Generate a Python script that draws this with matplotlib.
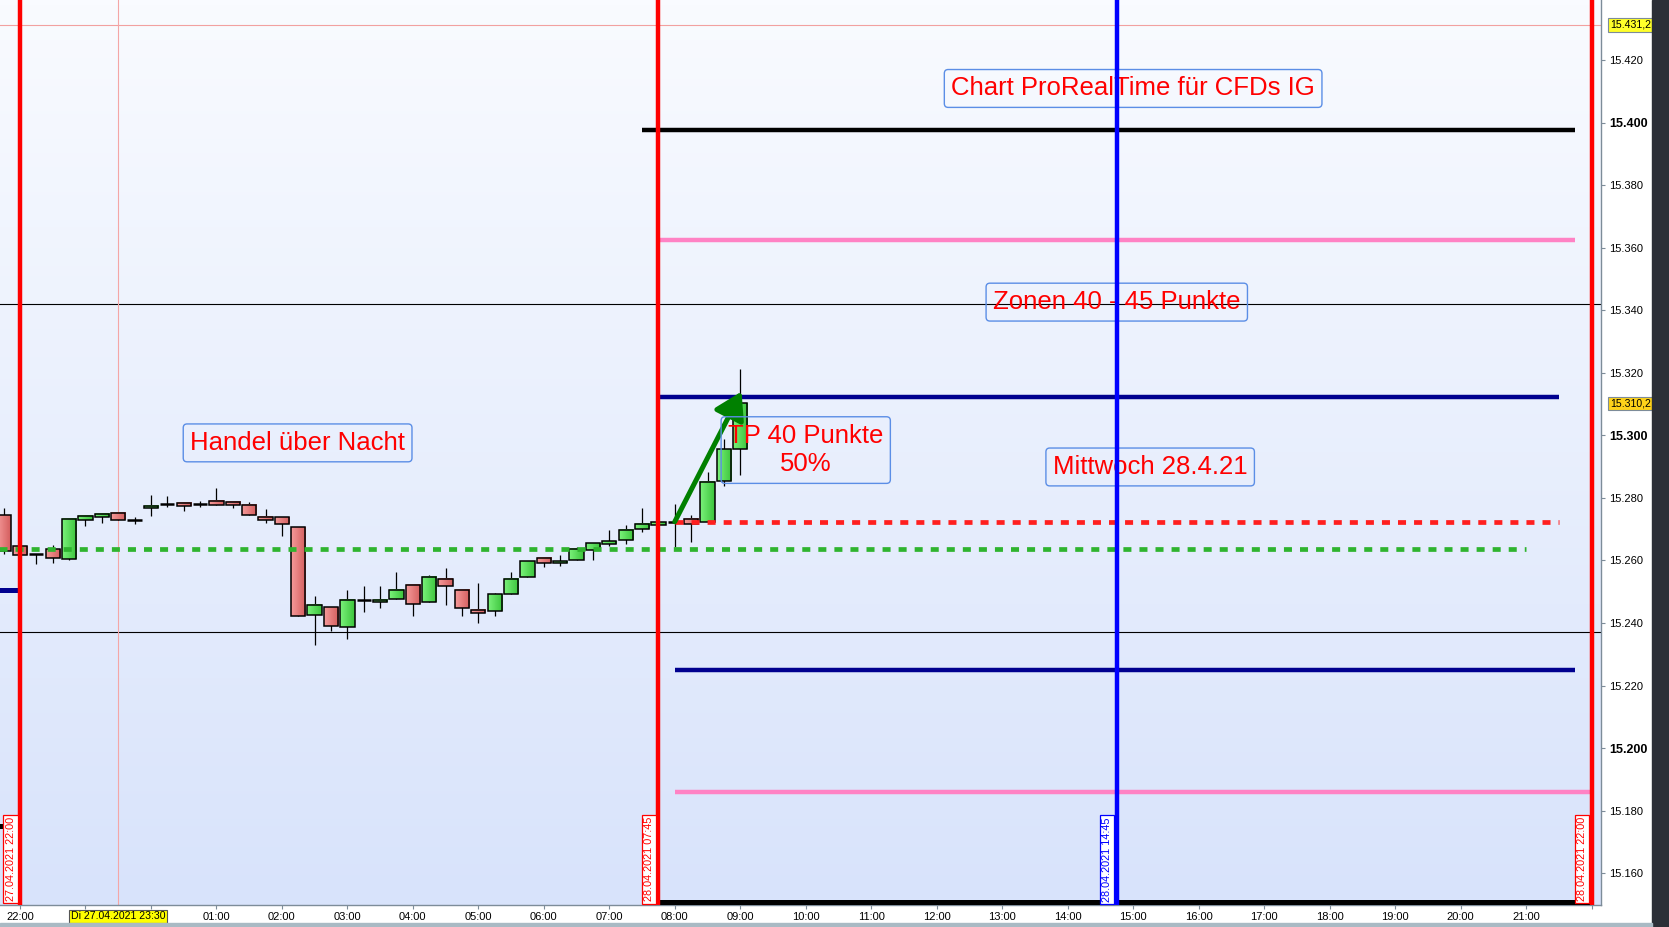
import numpy as np
import pandas as pd
import matplotlib
matplotlib.use("Agg")
import matplotlib.pyplot as plt
from matplotlib.patches import Rectangle
from matplotlib.colors import LinearSegmentedColormap

plt.rcParams['font.family'] = ['Liberation Sans', 'DejaVu Sans']

# ---------------- data ----------------
start_time = pd.Timestamp("2021-04-27 21:45")
opens = [15274.5, 15264.5, 15262.0, 15263.6, 15260.4, 15272.8, 15273.8, 15275.1, 15273.0, 15276.7,
         15278.0, 15278.3, 15278.2, 15278.9, 15278.6, 15277.6, 15273.8, 15273.8, 15270.6, 15242.5,
         15245.0, 15238.6, 15247.5, 15246.6, 15247.6, 15252.1, 15246.6, 15254.0, 15250.5, 15244.1,
         15243.8, 15249.2, 15254.6, 15260.7, 15259.1, 15260.0, 15263.3, 15265.2, 15266.4, 15270.0,
         15271.3, 15272.4, 15273.2, 15272.2, 15285.5, 15295.5]
highs = [15276.9, 15265.0, 15262.0, 15264.9, 15273.5, 15274.5, 15275.2, 15275.1, 15273.9, 15280.9,
         15280.6, 15278.6, 15279.0, 15283.2, 15278.6, 15278.6, 15276.4, 15273.8, 15270.6, 15248.6,
         15245.0, 15250.6, 15251.8, 15251.8, 15256.3, 15252.1, 15255.4, 15257.6, 15250.5, 15252.8,
         15249.5, 15256.3, 15259.7, 15261.0, 15261.7, 15264.2, 15265.5, 15269.7, 15271.3, 15276.8,
         15272.2, 15278.1, 15274.4, 15288.2, 15298.7, 15321.2]
lows = [15262.1, 15261.5, 15258.8, 15259.3, 15260.0, 15271.1, 15272.1, 15272.8, 15271.7, 15274.3,
        15277.2, 15275.9, 15277.2, 15277.6, 15276.9, 15274.4, 15272.1, 15267.9, 15242.2, 15233.1,
        15237.5, 15235.0, 15243.6, 15244.9, 15247.6, 15242.4, 15246.6, 15245.7, 15242.4, 15240.1,
        15242.4, 15249.2, 15254.6, 15258.0, 15258.3, 15260.0, 15260.0, 15264.5, 15265.2, 15269.0,
        15271.3, 15264.2, 15266.0, 15272.2, 15283.9, 15287.4]
closes = [15263.1, 15261.7, 15262.0, 15260.9, 15273.2, 15274.1, 15274.8, 15272.8, 15273.0, 15277.4,
          15278.0, 15277.3, 15278.3, 15277.6, 15277.6, 15274.4, 15272.8, 15271.6, 15242.2, 15245.7,
          15239.0, 15247.3, 15247.5, 15247.3, 15250.5, 15246.0, 15254.6, 15251.7, 15244.7, 15243.1,
          15249.2, 15254.0, 15259.7, 15259.1, 15259.7, 15263.6, 15265.5, 15266.1, 15269.6, 15271.6,
          15272.2, 15272.4, 15271.6, 15285.0, 15295.6, 15310.2]

# hours are measured from 27.04.2021 22:00
ref_time = pd.Timestamp("2021-04-27 22:00")
times = pd.date_range(start_time, periods=len(opens), freq="15min")
t_hours = [(t - ref_time).total_seconds() / 3600 for t in times]

x_tick_hours = list(range(0, 25))
x_tick_labels = ["22:00", "", "", "01:00", "02:00", "03:00", "04:00", "05:00", "06:00", "07:00",
                 "08:00", "09:00", "10:00", "11:00", "12:00", "13:00", "14:00", "15:00", "16:00",
                 "17:00", "18:00", "19:00", "20:00", "21:00", ""]
y_ticks = [15160, 15180, 15200, 15220, 15240, 15260, 15280, 15300, 15320, 15340, 15360, 15380, 15400, 15420]
y_tick_labels = ["15.160", "15.180", "15.200", "15.220", "15.240", "15.260", "15.280", "15.300",
                 "15.320", "15.340", "15.360", "15.380", "15.400", "15.420"]
bold_ticks = ["15.200", "15.300", "15.400"]

# levels
session_lines = [0.0, 9.75, 24.0]          # red verticals
session_labels = ["27.04.2021 22:00", "28.04.2021 07:45", "28.04.2021 22:00"]
blue_line = 16.75
blue_label = "28.04.2021 14:45"
cross_hour = 1.5
cross_label = "Di 27.04.2021 23:30"
high_ref = 15431.2
last_price = 15310.2
thin_levels = [15342.0, 15237.2]
black_level = (15397.6, 9.5, 23.75)
pink_high = (15362.5, 9.75, 23.75)
navy_high = (15312.2, 9.75, 23.5)
red_dash = (15272.4, 10.0, 23.5)
green_dash = (15263.6, -0.4, 23.0)
navy_low = (15225.1, 10.0, 23.75)
pink_low = (15186.0, 10.0, 24.0)
bottom_black = (15150.8, 9.75, 24.0)
left_navy = (15250.6, -0.4, 0.0)
left_black = (15175.1, -0.4, 0.0)
arrow_start = (10.0, 15272.4)
arrow_end = (11.02, 15314.0)

notes = [
    ("Chart ProRealTime für CFDs IG", 17.0, 15410.9),
    ("Zonen 40 - 45 Punkte", 16.75, 15342.6),
    ("Handel über Nacht", 4.24, 15297.6),
    ("TP 40 Punkte\n50%", 12.0, 15295.3),
    ("Mittwoch 28.4.21", 17.26, 15289.9),
]

# ---------------- figure ----------------
W, H = 1669, 927
fig = plt.figure(figsize=(W / 100, H / 100), dpi=100)
fig.patch.set_facecolor("white")
ax = fig.add_axes([0, 22 / H, 1601 / W, 905 / H])

xlim = (-0.305, 24.145)
ylim = (15149.87, 15439.18)

# background gradient
grad = np.linspace(0, 1, 256).reshape(-1, 1)
bg_cmap = LinearSegmentedColormap.from_list("bg", ["#f9fbff", "#d8e3fb"])
ax.imshow(grad, extent=[xlim[0], xlim[1], ylim[0], ylim[1]], origin="upper",
          cmap=bg_cmap, aspect="auto", zorder=0, interpolation="bilinear")

# thin lines
ax.axhline(high_ref, color="#f2a0a0", lw=0.8, zorder=1)
for lv in thin_levels:
    ax.axhline(lv, color="black", lw=0.8, zorder=1)
ax.axvline(cross_hour, color="#f4a6a6", lw=0.8, zorder=1)

# candles
green_cmap = LinearSegmentedColormap.from_list("g", ["#7af27a", "#3cc43c"])
red_cmap = LinearSegmentedColormap.from_list("r", ["#f59a9a", "#d45e5e"])
hgrad = np.linspace(0, 1, 32).reshape(1, -1)
cw = 0.218
for x, o, h, l, c in zip(t_hours, opens, highs, lows, closes):
    ax.vlines(x, l, h, color="black", lw=0.9, zorder=2)
    if abs(c - o) < 0.3:
        ax.hlines(o, x - cw / 2, x + cw / 2, color="black", lw=1.8, zorder=3)
        continue
    lo, hi = min(o, c), max(o, c)
    cm = green_cmap if c > o else red_cmap
    ax.imshow(hgrad, extent=[x - cw / 2, x + cw / 2, lo, hi], cmap=cm, aspect="auto",
              zorder=2.5, interpolation="bilinear")
    ax.add_patch(Rectangle((x - cw / 2, lo), cw, hi - lo, fill=False, ec="black", lw=1.1, zorder=3))

# horizontal levels
def hline(level, color, lw, ls="-", z=4):
    y, x0, x1 = level
    ax.plot([x0, x1], [y, y], color=color, lw=lw, ls=ls, zorder=z, solid_capstyle="butt",
            dash_capstyle="butt")

hline(black_level, "black", 3.2)
hline(pink_high, "#ff82c4", 3.2)
hline(navy_high, "#00008f", 3.2)
hline(red_dash, "#ff1f1f", 3.4, ls=(0, (1.7, 1.7)))
hline(green_dash, "#2fb42f", 3.4, ls=(0, (1.7, 1.7)))
hline(navy_low, "#00008f", 3.2)
hline(pink_low, "#ff82c4", 3.2)
hline(bottom_black, "black", 3.6)
hline(left_navy, "#00008f", 3.6)
hline(left_black, "black", 3.6)

# arrow
ax.annotate("", xy=arrow_end, xytext=arrow_start,
            arrowprops=dict(arrowstyle="-|>,head_length=0.9,head_width=0.55", lw=3.6,
                            color="#008000", shrinkA=0, shrinkB=0, mutation_scale=18),
            zorder=5)

# notes
for txt, xh, yp in notes:
    ax.text(xh, yp, txt, ha="center", va="center", color="#ff0000", fontsize=18.5,
            linespacing=1.25, zorder=5,
            bbox=dict(boxstyle="round,pad=0.27,rounding_size=0.15", fc="none", ec="#5b8ee6", lw=1.0))

# vertical lines
for xs in session_lines:
    ax.axvline(xs, color="#ff0000", lw=3.2, zorder=6)
ax.axvline(blue_line, color="#0000ff", lw=3.2, zorder=6)

# date labels on the verticals
label_top = 15178.0
for xs, lab in zip(session_lines, session_labels):
    t = ax.annotate(lab, xy=(xs, label_top), xytext=(-3.2, 0), textcoords="offset points",
                    rotation=90, ha="right", va="top", fontsize=7.8, color="#ff0000", zorder=7,
                    bbox=dict(boxstyle="square,pad=0.2", fc="white", ec="#ff0000", lw=0.9),
                    annotation_clip=False)
    t.set_clip_on(True)
t = ax.annotate(blue_label, xy=(blue_line, label_top), xytext=(-3.2, 0), textcoords="offset points",
                rotation=90, ha="right", va="top", fontsize=7.8, color="#0000ff", zorder=7,
                bbox=dict(boxstyle="square,pad=0.2", fc="white", ec="#0000ff", lw=0.9),
                annotation_clip=False)
t.set_clip_on(True)

ax.set_xlim(*xlim)
ax.set_ylim(*ylim)

# axes styling
for s in ["top", "left"]:
    ax.spines[s].set_visible(False)
for s in ["right", "bottom"]:
    ax.spines[s].set_color("#7d8c99")
    ax.spines[s].set_linewidth(1.0)
ax.yaxis.tick_right()
ax.set_yticks(y_ticks)
ax.set_yticklabels(y_tick_labels)
for lab in ax.get_yticklabels():
    if lab.get_text() in bold_ticks:
        lab.set_fontweight("bold")
        lab.set_fontsize(9)
    else:
        lab.set_fontsize(8)
ax.tick_params(axis="y", length=3, color="#7d8c99", pad=3, labelcolor="black")
ax.set_xticks(x_tick_hours)
ax.set_xticklabels(x_tick_labels, fontsize=8)
ax.tick_params(axis="x", length=3, color="#7d8c99", pad=2, labelcolor="black")

# partial label at top (cut by the frame, as in the original)
ax.annotate("15.440", xy=(1, 15440), xycoords=("axes fraction", "data"), xytext=(5, 0),
            textcoords="offset points", ha="left", va="center", fontsize=8, annotation_clip=False)

# price boxes on the axis
ax.annotate("15.431,2", xy=(1, high_ref), xycoords=("axes fraction", "data"), xytext=(6.5, 0),
            textcoords="offset points", ha="left", va="center", fontsize=7.6, annotation_clip=False,
            bbox=dict(boxstyle="square,pad=0.18", fc="#ffff2a", ec="#7d8c99", lw=0.8))
ax.annotate("15.310,2", xy=(1, last_price), xycoords=("axes fraction", "data"), xytext=(6.5, 0),
            textcoords="offset points", ha="left", va="center", fontsize=7.6, annotation_clip=False,
            bbox=dict(boxstyle="square,pad=0.18", fc="#ffd21a", ec="#7d8c99", lw=0.8))

# crosshair date label on x axis
ax.annotate(cross_label, xy=(cross_hour, 0), xycoords=("data", "axes fraction"), xytext=(0, -4.5),
            textcoords="offset points", ha="center", va="top", fontsize=7.6, annotation_clip=False,
            bbox=dict(boxstyle="square,pad=0.15", fc="#ffff00", ec="#555555", lw=0.8))

# frame decorations
fig.patches.append(Rectangle((1652 / W, 0), 17 / W, 1, transform=fig.transFigure,
                             color="#2c2f37", zorder=0))
fig.patches.append(Rectangle((0, 0), 1652 / W, 4 / H, transform=fig.transFigure,
                             color="#a9bac4", zorder=0))

fig.savefig("out.png", dpi=100)
